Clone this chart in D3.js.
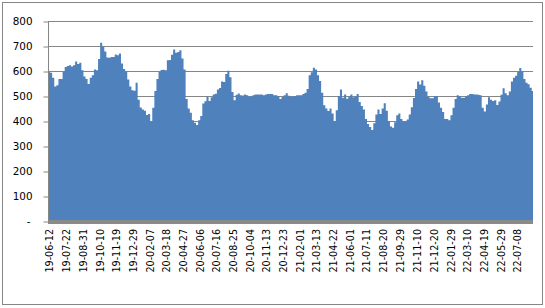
<!DOCTYPE html>
<html>
<head>
<meta charset="utf-8">
<script src="https://cdn.jsdelivr.net/npm/d3@7"></script>
<style>
  html, body { margin: 0; padding: 0; background: #fff; }
  svg text { font-family: "DejaVu Sans", Verdana, sans-serif; fill: #000; }
</style>
</head>
<body>
<div id="chart"></div>
<script>
// first sample date and spacing of the samples (days)
const startDate = '2019-06-07';
const stepDays = 5;
const dayCount = 1163;

const values = [
  600, 595, 575, 540, 545, 570, 570, 600, 618, 622,
  625, 620, 625, 640, 630, 635, 605, 580, 570, 550,
  575, 585, 608, 605, 650, 715, 698, 680, 656, 655,
  658, 658, 668, 665, 672, 632, 610, 600, 568, 540,
  525, 523, 555, 487, 456, 448, 443, 426, 430, 400,
  455, 522, 570, 598, 606, 607, 605, 645, 646, 667,
  688, 675, 678, 685, 652, 608, 490, 452, 435, 405,
  395, 386, 405, 422, 472, 481, 500, 482, 497, 508,
  511, 528, 534, 560, 558, 590, 603, 577, 518, 485,
  507, 512, 505, 504, 508, 505, 500, 500, 505, 508,
  508, 508, 508, 505, 508, 510, 510, 510, 505, 505,
  502, 490, 498, 505, 513, 503, 500, 500, 502, 505,
  505, 505, 510, 515, 530, 585, 597, 615, 608, 585,
  562, 515, 465, 452, 442, 452, 432, 402, 445, 501,
  528, 495, 508, 491, 500, 508, 497, 501, 510, 478,
  462, 448, 410, 390, 378, 366, 393, 428, 448, 430,
  452, 473, 443, 402, 380, 375, 397, 425, 432, 410,
  400, 400, 408, 428, 457, 494, 530, 560, 548, 565,
  543, 520, 498, 493, 493, 502, 502, 476, 455, 438,
  410, 410, 405, 425, 455, 490, 505, 502, 495, 495,
  500, 505, 510, 510, 508, 508, 507, 505, 455, 440,
  468, 497, 487, 482, 485, 466, 480, 507, 533, 513,
  505, 520, 560, 575, 583, 598, 614, 601, 570, 555,
  549, 535, 522
];

const tickLabels = [
  '19-06-12', '19-07-22', '19-08-31', '19-10-10', '19-11-19', '19-12-29',
  '20-02-07', '20-03-18', '20-04-27', '20-06-06', '20-07-16', '20-08-25',
  '20-10-04', '20-11-13', '20-12-23', '21-02-01', '21-03-13', '21-04-22',
  '21-06-01', '21-07-11', '21-08-20', '21-09-29', '21-11-10', '21-12-20',
  '22-01-29', '22-03-10', '22-04-19', '22-05-29', '22-07-08'
];

const yTicks = [0, 100, 200, 300, 400, 500, 600, 700, 800];

const width = 545;
const height = 308;
const plot = {left: 48, right: 533, top: 21.5, bottom: 221.5};

const parseDay = d3.timeParse('%Y-%m-%d');
const parseTick = d3.timeParse('%y-%m-%d');
const start = parseDay(startDate);
const end = d3.timeDay.offset(start, dayCount);

const data = values.map((v, i) => ({date: d3.timeDay.offset(start, i * stepDays), value: v}));
// close the last step at the right edge
data.push({date: end, value: values[values.length - 1]});

const x = d3.scaleTime()
  .domain([start, end])
  .range([plot.left, plot.right]);
const y = d3.scaleLinear()
  .domain([0, 800])
  .range([plot.bottom, plot.top]);

const svg = d3.select('#chart').append('svg')
  .attr('width', width)
  .attr('height', height);

// outer frame
svg.append('rect')
  .attr('x', 2.5).attr('y', 2.5)
  .attr('width', 540).attr('height', 302)
  .attr('fill', '#fff')
  .attr('stroke', '#868686');

svg.append('clipPath').attr('id', 'clip')
  .append('rect')
  .attr('x', plot.left).attr('y', 0)
  .attr('width', plot.right - plot.left).attr('height', plot.bottom);

// gridlines
svg.append('g')
  .selectAll('line')
  .data(yTicks)
  .enter().append('line')
  .attr('x1', plot.left)
  .attr('x2', plot.right)
  .attr('y1', d => y(d))
  .attr('y2', d => y(d))
  .attr('stroke', '#868686')
  .attr('stroke-width', 1);

const area = d3.area()
  .curve(d3.curveStepAfter)
  .x(d => x(d.date))
  .y0(y(0))
  .y1(d => y(d.value));

svg.append('path')
  .datum(data)
  .attr('clip-path', 'url(#clip)')
  .attr('d', area)
  .attr('fill', '#4f81bd');

// floor strip under the series
svg.append('rect')
  .attr('x', plot.left)
  .attr('y', y(0) - 1.5)
  .attr('width', plot.right - plot.left)
  .attr('height', 4)
  .attr('fill', '#8a8a8a');

// y axis
const yAxis = svg.append('g')
  .attr('transform', `translate(${plot.left + 0.5},0)`)
  .call(d3.axisLeft(y)
    .tickValues(yTicks)
    .tickSize(5)
    .tickPadding(11)
    .tickFormat(d => d === 0 ? '-' : d3.format('d')(d)));
yAxis.select('.domain')
  .attr('stroke', '#868686')
  .attr('d', `M0,${plot.top}V${plot.bottom + 2}`);
yAxis.selectAll('.tick line').attr('stroke', '#868686');
yAxis.selectAll('.tick text')
  .style('font-size', '10.4px')
  .attr('dx', d => d === 0 ? '-2' : '0');

// x labels, rotated
svg.append('g')
  .selectAll('text')
  .data(tickLabels)
  .enter().append('text')
  .attr('transform', d => `translate(${x(parseTick(d))},229) rotate(-90)`)
  .attr('text-anchor', 'end')
  .attr('dy', '0.35em')
  .style('font-size', '9.6px')
  .text(d => d);
</script>
</body>
</html>
